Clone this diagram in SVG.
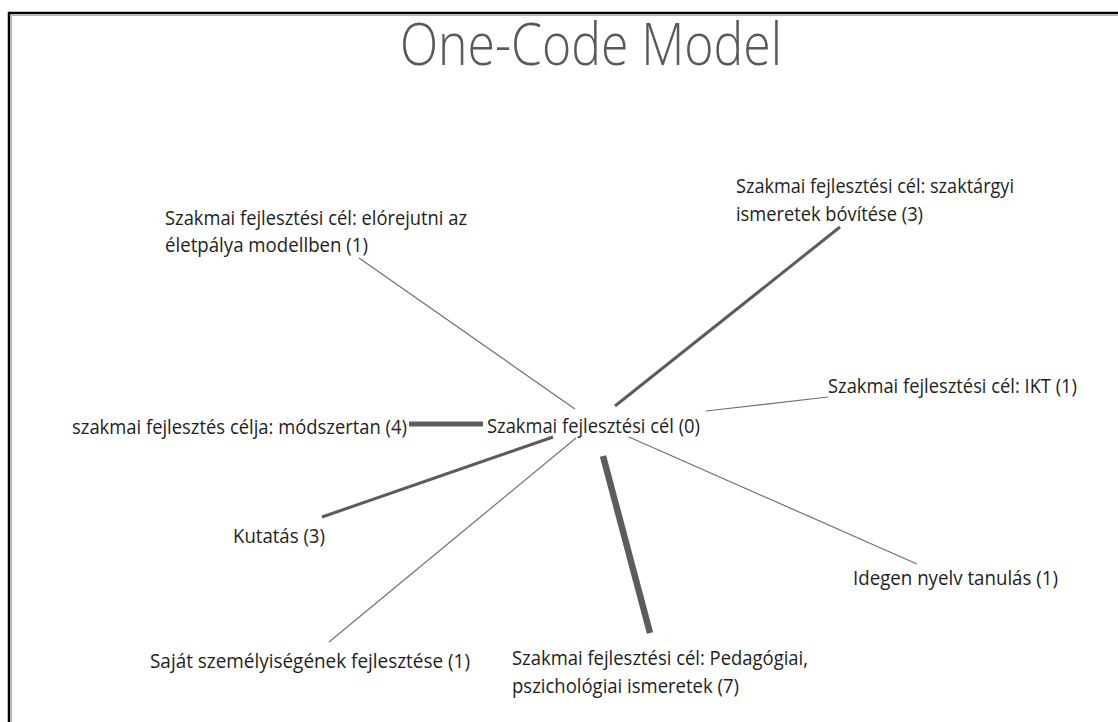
<svg xmlns="http://www.w3.org/2000/svg" width="1118" height="722" viewBox="0 0 1118 722">
  <style>
    .frame { fill: none; stroke: #000; stroke-width: 2.5; }
    .frame-shadow { fill: none; stroke: #b0b0b0; stroke-width: 1; }
    .title { font-family: "Open Sans", "Noto Sans", sans-serif; font-weight: 300; font-size: 59px; fill: #595959; }
    .lbl { font-family: "Open Sans", "Noto Sans", sans-serif; font-size: 20px; fill: #1e1e1e; }
    .edge { stroke: #5c5c5c; stroke-linecap: butt; fill: none; }
    .w1 { stroke: #707070; stroke-width: 1.2; }
    .w3 { stroke-width: 3; }
    .w4 { stroke-width: 5; }
    .w7 { stroke-width: 6.5; }
  </style>

  <rect x="0" y="0" width="1118" height="722" fill="#ffffff"/>

  <!-- outer frame (open on the right and bottom) -->
  <path class="frame-shadow" d="M11.5,722 V15.5 H1118"/>
  <path class="frame" d="M9,722 V13 H1118"/>

  <text class="title" x="400" y="65" textLength="382" lengthAdjust="spacingAndGlyphs">One-Code Model</text>

  <g id="connectors">
    <line class="edge w1" x1="575" y1="409" x2="359" y2="258"/>
    <line class="edge w3" x1="615" y1="406" x2="840" y2="227"/>
    <line class="edge w1" x1="706" y1="411" x2="828" y2="397"/>
    <line class="edge w4" x1="483" y1="424" x2="409" y2="424"/>
    <line class="edge w3" x1="553" y1="437" x2="322" y2="517"/>
    <line class="edge w1" x1="576" y1="438" x2="329" y2="642"/>
    <line class="edge w7" x1="603" y1="456" x2="650" y2="633"/>
    <line class="edge w1" x1="629" y1="437" x2="917" y2="564"/>
  </g>

  <g id="node-center">
    <text class="lbl" x="487" y="433" textLength="213" lengthAdjust="spacingAndGlyphs">Szakmai fejlesztési cél (0)</text>
  </g>

  <g id="node-eletpalya">
    <text class="lbl" x="165" y="225" textLength="302" lengthAdjust="spacingAndGlyphs">Szakmai fejlesztési cél: elórejutni az</text>
    <text class="lbl" x="165" y="252" textLength="203" lengthAdjust="spacingAndGlyphs">életpálya modellben (1)</text>
  </g>

  <g id="node-szaktargyi">
    <text class="lbl" x="736" y="193" textLength="278" lengthAdjust="spacingAndGlyphs">Szakmai fejlesztési cél: szaktárgyi</text>
    <text class="lbl" x="736" y="221" textLength="187" lengthAdjust="spacingAndGlyphs">ismeretek bóvítése (3)</text>
  </g>

  <g id="node-ikt">
    <text class="lbl" x="828" y="393" textLength="249" lengthAdjust="spacingAndGlyphs">Szakmai fejlesztési cél: IKT (1)</text>
  </g>

  <g id="node-modszertan">
    <text class="lbl" x="72" y="434" textLength="335" lengthAdjust="spacingAndGlyphs">szakmai fejlesztés célja: módszertan (4)</text>
  </g>

  <g id="node-kutatas">
    <text class="lbl" x="233" y="543" textLength="92" lengthAdjust="spacingAndGlyphs">Kutatás (3)</text>
  </g>

  <g id="node-szemelyiseg">
    <text class="lbl" x="150" y="668" textLength="320" lengthAdjust="spacingAndGlyphs">Saját személyiségének fejlesztése (1)</text>
  </g>

  <g id="node-pedagogiai">
    <text class="lbl" x="512" y="665" textLength="296" lengthAdjust="spacingAndGlyphs">Szakmai fejlesztési cél: Pedagógiai,</text>
    <text class="lbl" x="512" y="693" textLength="227" lengthAdjust="spacingAndGlyphs">pszichológiai ismeretek (7)</text>
  </g>

  <g id="node-idegen">
    <text class="lbl" x="853" y="585" textLength="205" lengthAdjust="spacingAndGlyphs">Idegen nyelv tanulás (1)</text>
  </g>
</svg>
